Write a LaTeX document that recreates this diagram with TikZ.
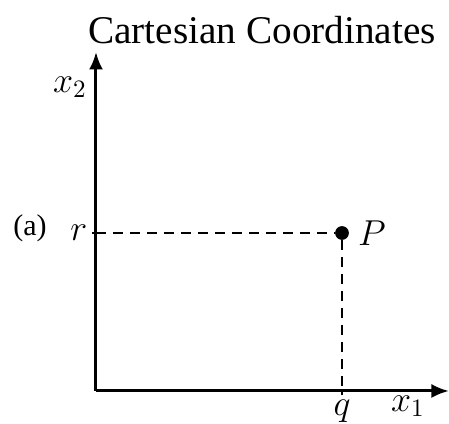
\documentclass[tikz,border=0pt]{standalone}
\usepackage[no-math]{fontspec}
\setmainfont{Liberation Serif}
\usetikzlibrary{arrows.meta,positioning}

\begin{document}
\begin{tikzpicture}[x=0.4pt, y=0.4pt, node distance=1pt and 1pt,
        axis/.style={-{Latex[length=7pt,width=5.6pt]}, line width=1.2pt},
        guide/.style={dash pattern=on 4pt off 2.8pt, line width=1.1pt}]
        \useasboundingbox (0,0) rectangle (449,424);
        \coordinate (origin) at (96,33);
        \coordinate (xend) at (449,33);
        \coordinate (yend) at (96,372);
        \coordinate (r) at (96,191);
        \coordinate (q) at (342,33);
        \node[circle, fill, inner sep=0pt, minimum size=5.5pt] (p) at (342,191) {};

        \node (title) at (262,394) {\fontsize{15.7}{18}\selectfont Cartesian Coordinates};
        \node[right=0pt of p] (plabel) {\Large $P$};
        \node[left=0pt of r] (rlabel) {\Large $r$};
        \node[below=0pt of q] (qlabel) {\Large $q$};
        \node (xonelabel) at (408,18) {\Large $x_1$};
        \node (xtwolabel) at (70,337) {\Large $x_2$};
        \node (tag) at (30,196) {\large (a)};

        \draw[axis] (origin) -- (xend);
        \draw[axis] (origin) -- (yend);
        \draw[guide] (r) -- (p);
        \draw[guide] (p) -- (q);
        \draw[line width=0.8pt] (r) -- ++(-4,0);
        \draw[line width=0.8pt] (q) -- ++(0,-4);
    \end{tikzpicture}
\end{document}
